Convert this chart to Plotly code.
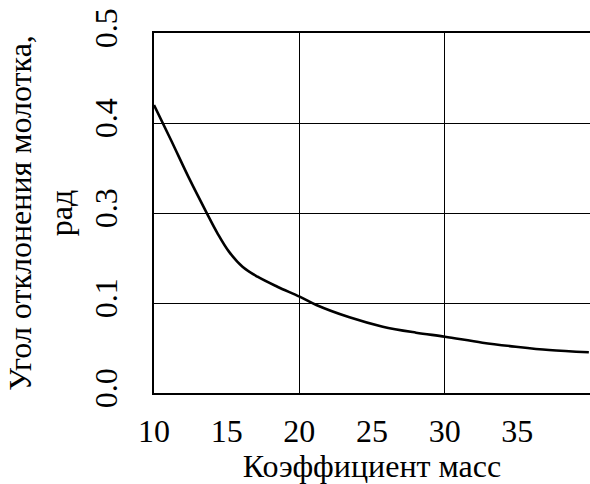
import plotly.graph_objects as go

# Data
mass_coef = [10.0, 11.2, 12.42, 13.64, 14.37, 15.17, 16.09, 17.12, 18.49, 20.02, 21.17, 23.45, 25.74, 28.03, 30.02, 32.6, 34.9, 37.18, 39.92]
angle_rad = [0.400, 0.350, 0.298, 0.2496, 0.2218, 0.196, 0.1754, 0.1615, 0.1476, 0.1338, 0.1222, 0.1051, 0.0921, 0.0838, 0.0782, 0.0699, 0.0643, 0.0597, 0.0565]

y_tickvals = [0.0, 0.125, 0.25, 0.375, 0.5]
y_ticktext = ["0.0", "0.1", "0.3", "0.4", "0.5"]
x_tickvals = [10, 15, 20, 25, 30, 35]
x_gridvals = [10, 20, 30]

FONT = "Liberation Serif"
fs = 32

fig = go.Figure()
fig.add_trace(go.Scatter(
    x=mass_coef, y=angle_rad, mode="lines",
    line=dict(color="black", width=2.6, shape="spline", smoothing=1.0),
    xaxis="x", yaxis="y", showlegend=False, hoverinfo="skip",
))

xr = [10, 40]
fig.update_layout(
    width=590, height=484,
    margin=dict(l=154, r=0, t=33, b=91),
    paper_bgcolor="white", plot_bgcolor="white",
    font=dict(family=FONT, size=fs, color="black"),
    xaxis=dict(
        range=xr, tickvals=x_gridvals, showticklabels=False,
        showgrid=True, gridcolor="black", gridwidth=1,
        showline=True, linecolor="black", linewidth=1.5, mirror=True,
        ticks="", zeroline=False,
    ),
    xaxis2=dict(
        range=xr, overlaying="x", side="bottom", anchor="y",
        tickvals=x_tickvals, ticktext=[str(v) for v in x_tickvals],
        showgrid=False, showline=False, zeroline=False, ticks="",
        ticklabelstandoff=16,
        tickfont=dict(family=FONT, size=fs, color="black"),
        title=dict(text="Коэффициент масс", font=dict(family=FONT, size=fs, color="black"), standoff=1),
    ),
    yaxis=dict(
        range=[0, 0.5], tickvals=y_tickvals, ticktext=y_ticktext,
        tickangle=-90, showgrid=True, gridcolor="black", gridwidth=1,
        showline=True, linecolor="black", linewidth=1.5, mirror=False,
        ticks="", zeroline=False, ticklabelstandoff=22,
        tickfont=dict(family=FONT, size=fs, color="black"),
        title=dict(text="Угол отклонения молотка,<br>рад", font=dict(family=FONT, size=fs, color="black"), standoff=6),
    ),
)
# dummy trace so xaxis2 is rendered
fig.add_trace(go.Scatter(x=[None], y=[None], xaxis="x2", yaxis="y", showlegend=False, hoverinfo="skip"))

fig.write_html("out.html")
